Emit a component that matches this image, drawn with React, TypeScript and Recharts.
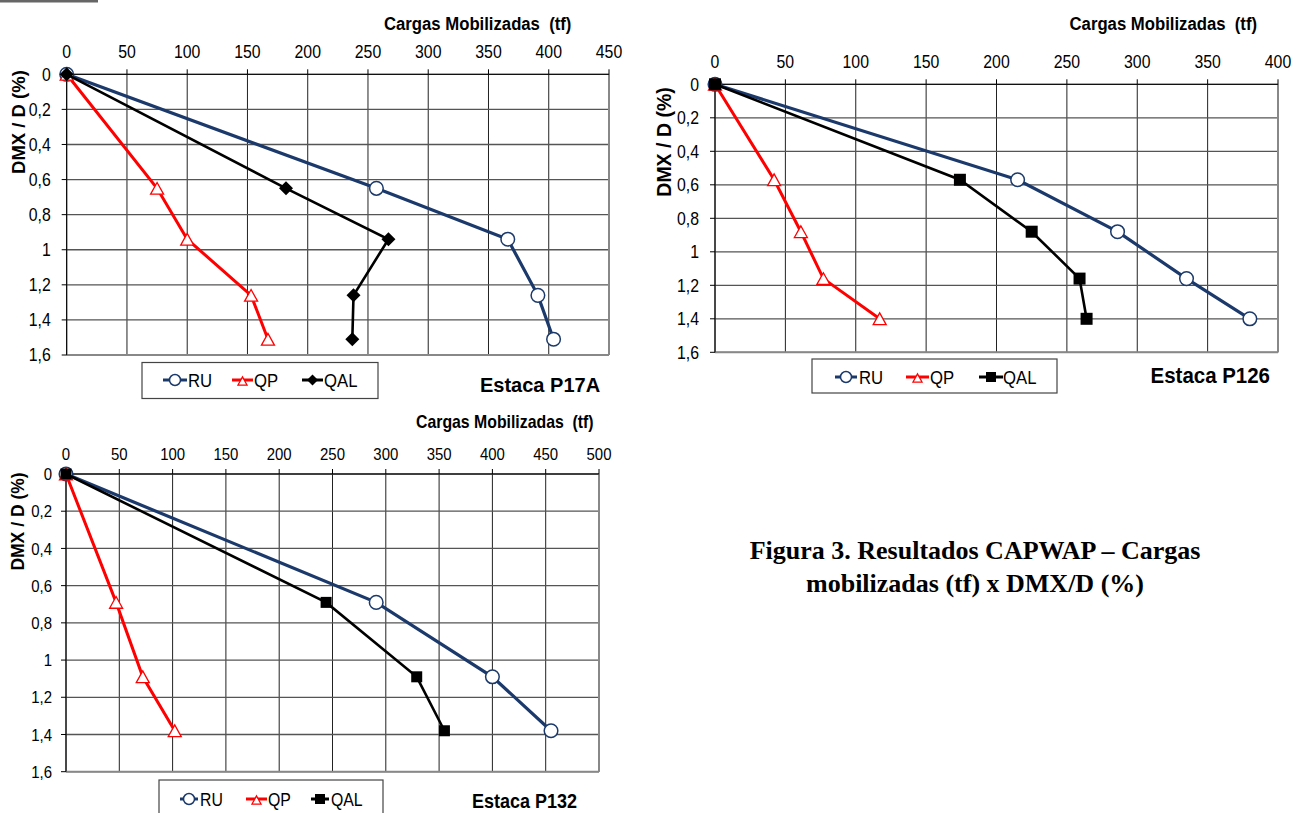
import React from 'react';
import { ScatterChart, Scatter, XAxis, YAxis, CartesianGrid, ReferenceLine } from 'recharts';

const SANS = "'Liberation Sans', Arial, Helvetica, sans-serif";
const SERIF = "'Liberation Serif', 'Times New Roman', Times, serif";
const NAVY = '#1b3a6b';
const RED = '#ff0000';
const BLACK = '#000000';

// DMX/D axis, shared by the three piles
const dmxTicks = [0, 0.2, 0.4, 0.6, 0.8, 1, 1.2, 1.4, 1.6];

// Estaca P17A
const p17aTicks = [0, 50, 100, 150, 200, 250, 300, 350, 400, 450];
const p17aDmx = [0, 0.65, 0.94, 1.26, 1.51];
const p17aRU = [0, 257, 366, 391, 404];
const p17aQP = [0, 75, 100, 153, 167];
const p17aQAL = [0, 182, 267, 238, 237];

// Estaca P126
const p126Ticks = [0, 50, 100, 150, 200, 250, 300, 350, 400];
const p126Dmx = [0, 0.57, 0.88, 1.16, 1.4];
const p126RU = [0, 215, 286, 335, 380];
const p126QP = [0, 42, 61, 77, 117];
const p126QAL = [0, 174, 225, 259, 264];

// Estaca P132
const p132Ticks = [0, 50, 100, 150, 200, 250, 300, 350, 400, 450, 500];
const p132Dmx = [0, 0.69, 1.09, 1.38];
const p132RU = [0, 291, 400, 455];
const p132QP = [0, 47, 72, 102];
const p132QAL = [0, 244, 329, 355];

const toPoints = (loads: number[], dmx: number[]) => loads.map((x, i) => ({ x, y: dmx[i] }));

const Circle = ({ cx, cy, r = 6 }: any) => (
  <circle cx={cx} cy={cy} r={r} fill="#fff" stroke={NAVY} strokeWidth={1.5} />
);
const Triangle = ({ cx, cy, s = 12 }: any) => {
  const h = s * 0.9;
  return (
    <polygon
      points={`${cx - s / 2},${cy + h / 2} ${cx + s / 2},${cy + h / 2} ${cx},${cy - h / 2}`}
      fill="#fff"
      stroke={RED}
      strokeWidth={1.3}
    />
  );
};
const Diamond = ({ cx, cy, s = 6.5 }: any) => (
  <polygon points={`${cx},${cy - s} ${cx + s},${cy} ${cx},${cy + s} ${cx - s},${cy}`} fill={BLACK} />
);
const Square = ({ cx, cy, s = 11 }: any) => (
  <rect x={cx - s / 2} y={cy - s / 2} width={s} height={s} fill={BLACK} />
);

const fmt = (v: number) => String(v).replace('.', ',');

const XTick = ({ x, y, payload, fs }: any) => (
  <g transform={`translate(${x},${y}) scale(0.88,1)`}>
    <text x={0} y={0} textAnchor="middle" fontSize={fs} fontFamily={SANS} fill="#000">
      {payload.value}
    </text>
  </g>
);
const YTick = ({ x, y, payload, fs }: any) => (
  <g transform={`translate(${x},${y}) scale(0.88,1)`}>
    <text x={0} y={0} dy="0.36em" textAnchor="end" fontSize={fs} fontFamily={SANS} fill="#000">
      {fmt(payload.value)}
    </text>
  </g>
);

type PanelProps = {
  box: { left: number; top: number; width: number; height: number };
  margin: { top: number; right: number; bottom: number; left: number };
  xTicks: number[];
  dmx: number[];
  ru: number[];
  qp: number[];
  qal: number[];
  qalMarker: 'diamond' | 'square';
  markSize: number;
  gap: number;
  fs: number;
};

const Panel = ({ box, margin, xTicks, dmx, ru, qp, qal, qalMarker, markSize, gap, fs }: PanelProps) => {
  const xMax = xTicks[xTicks.length - 1];
  return (
    <div style={{ position: 'absolute', left: box.left, top: box.top }}>
      <ScatterChart width={box.width} height={box.height} margin={margin}>
        <CartesianGrid horizontal={false} stroke="#222" strokeWidth={1} />
        <CartesianGrid vertical={false} stroke="#555" strokeWidth={1.3} />
        <XAxis
          type="number"
          dataKey="x"
          orientation="top"
          domain={[0, xMax]}
          ticks={xTicks}
          interval={0}
          height={30}
          tickSize={5}
          tickMargin={gap - 5}
          axisLine={{ stroke: '#000' }}
          tickLine={{ stroke: '#000' }}
          tick={(p: any) => <XTick {...p} fs={fs} />}
        />
        <YAxis
          type="number"
          dataKey="y"
          reversed
          domain={[0, 1.6]}
          ticks={dmxTicks}
          interval={0}
          width={46}
          tickSize={5}
          tickMargin={gap - 5}
          axisLine={{ stroke: '#000' }}
          tickLine={{ stroke: '#000' }}
          tick={(p: any) => <YTick {...p} fs={fs} />}
        />
        <ReferenceLine x={xMax} stroke="#888" strokeWidth={2} />
        <ReferenceLine y={1.6} stroke="#888" strokeWidth={2} />
        <Scatter
          data={toPoints(ru, dmx)}
          fill={NAVY}
          line={{ stroke: NAVY, strokeWidth: 3.2 }}
          shape={(p: any) => <Circle cx={p.cx} cy={p.cy} r={6.8} />}
          isAnimationActive={false}
        />
        <Scatter
          data={toPoints(qp, dmx)}
          fill={RED}
          line={{ stroke: RED, strokeWidth: 3 }}
          shape={(p: any) => <Triangle cx={p.cx} cy={p.cy} s={13} />}
          isAnimationActive={false}
        />
        <Scatter
          data={toPoints(qal, dmx)}
          fill={BLACK}
          line={{ stroke: BLACK, strokeWidth: 2.6 }}
          shape={(p: any) =>
            qalMarker === 'diamond' ? (
              <Diamond cx={p.cx} cy={p.cy} s={markSize} />
            ) : (
              <Square cx={p.cx} cy={p.cy} s={markSize} />
            )
          }
          isAnimationActive={false}
        />
      </ScatterChart>
    </div>
  );
};

const NText = ({ x, y, fs, bold = false, anchor = 'start', sx = 0.88, children }: any) => (
  <g transform={`translate(${x},${y}) scale(${sx},1)`}>
    <text
      x={0}
      y={0}
      textAnchor={anchor}
      fontSize={fs}
      fontWeight={bold ? 700 : 400}
      fontFamily={SANS}
      fill="#000"
      style={{ whiteSpace: 'pre' }}
    >
      {children}
    </text>
  </g>
);

const YTitle = ({ cx, cy, fs }: any) => (
  <text
    transform={`translate(${cx},${cy}) rotate(-90)`}
    textAnchor="middle"
    dominantBaseline="central"
    fontSize={fs}
    fontWeight={700}
    fontFamily={SANS}
    fill="#000"
  >
    DMX / D (%)
  </text>
);

const LegendBox = ({ x, y, w, h, cy, items, qalMarker, fs }: any) => (
  <g>
    <rect x={x} y={y} width={w} height={h} fill="#fff" stroke="#444" strokeWidth={1.2} />
    {/* RU */}
    <line x1={items[0][0]} x2={items[0][1]} y1={cy} y2={cy} stroke={NAVY} strokeWidth={3} />
    <Circle cx={(items[0][0] + items[0][1]) / 2} cy={cy} r={5.5} />
    <NText x={items[0][2]} y={cy + 7} fs={fs}>RU</NText>
    {/* QP */}
    <line x1={items[1][0]} x2={items[1][1]} y1={cy} y2={cy} stroke={RED} strokeWidth={3} />
    <Triangle cx={(items[1][0] + items[1][1]) / 2} cy={cy + 1} s={9} />
    <NText x={items[1][2]} y={cy + 7} fs={fs}>QP</NText>
    {/* QAL */}
    <line x1={items[2][0]} x2={items[2][1]} y1={cy} y2={cy} stroke={BLACK} strokeWidth={3} />
    {qalMarker === 'diamond' ? (
      <Diamond cx={(items[2][0] + items[2][1]) / 2} cy={cy} s={5.5} />
    ) : (
      <Square cx={(items[2][0] + items[2][1]) / 2} cy={cy} s={10} />
    )}
    <NText x={items[2][2]} y={cy + 7} fs={fs}>QAL</NText>
  </g>
);

const Overlay = () => (
  <svg
    width={1303}
    height={813}
    style={{ position: 'absolute', left: 0, top: 0, pointerEvents: 'none', overflow: 'hidden' }}
  >
    <rect x={0} y={0} width={98} height={2.5} fill="#666" />

    {/* P17A */}
    <NText x={384} y={30} fs={19} bold>{'Cargas Mobilizadas  (tf)'}</NText>
    <YTitle cx={18.5} cy={122} fs={18.5} />
    <LegendBox
      x={142}
      y={362.5}
      w={236}
      h={36}
      cy={380}
      fs={19}
      qalMarker="diamond"
      items={[
        [163, 187, 188],
        [232, 253, 254],
        [302, 323, 324],
      ]}
    />
    <NText x={480} y={391.5} fs={20} bold sx={1}>Estaca P17A</NText>

    {/* P126 */}
    <NText x={1257} y={30} fs={19} bold anchor="end">{'Cargas Mobilizadas  (tf)'}</NText>
    <YTitle cx={664} cy={142} fs={19.5} />
    <LegendBox
      x={812}
      y={359}
      w={245}
      h={34}
      cy={377}
      fs={19}
      qalMarker="square"
      items={[
        [835, 857, 859],
        [906, 929, 930],
        [979, 1003, 1003],
      ]}
    />
    <NText x={1270} y={383} fs={22} bold anchor="end" sx={0.93}>Estaca P126</NText>

    {/* P132 */}
    <NText x={416} y={428} fs={18} bold>{'Cargas Mobilizadas  (tf)'}</NText>
    <YTitle cx={18} cy={521.5} fs={17.5} />
    <LegendBox
      x={159}
      y={780}
      w={224}
      h={40}
      cy={799}
      fs={18}
      qalMarker="square"
      items={[
        [180, 198, 200],
        [246, 267, 268],
        [311, 329, 331],
      ]}
    />
    <NText x={472} y={808} fs={20} bold sx={0.9}>Estaca P132</NText>

    {/* caption */}
    <text x={975} y={559} textAnchor="middle" fontSize={26} fontWeight={700} fontFamily={SERIF} fill="#000">
      Figura 3. Resultados CAPWAP – Cargas
    </text>
    <text x={975} y={592} textAnchor="middle" fontSize={26} fontWeight={700} fontFamily={SERIF} fill="#000">
      mobilizadas (tf) x DMX/D (%)
    </text>
  </svg>
);

export default function App() {
  return (
    <div style={{ position: 'absolute', left: 0, top: 0, width: 1303, height: 813, background: '#fff', overflow: 'hidden' }}>
      <Panel
        box={{ left: 0, top: 0, width: 640, height: 400 }}
        margin={{ top: 44.3, right: 31, bottom: 45, left: 20.7 }}
        xTicks={p17aTicks}
        dmx={p17aDmx}
        ru={p17aRU}
        qp={p17aQP}
        qal={p17aQAL}
        qalMarker="diamond"
        markSize={7}
        gap={16}
        fs={18}
      />
      <Panel
        box={{ left: 640, top: 0, width: 663, height: 400 }}
        margin={{ top: 54.3, right: 25, bottom: 47.7, left: 29 }}
        xTicks={p126Ticks}
        dmx={p126Dmx}
        ru={p126RU}
        qp={p126QP}
        qal={p126QAL}
        qalMarker="square"
        markSize={12}
        gap={16}
        fs={18}
      />
      <Panel
        box={{ left: 0, top: 400, width: 640, height: 413 }}
        margin={{ top: 44, right: 41, bottom: 41.3, left: 20 }}
        xTicks={p132Ticks}
        dmx={p132Dmx}
        ru={p132RU}
        qp={p132QP}
        qal={p132QAL}
        qalMarker="square"
        markSize={11}
        gap={14}
        fs={17}
      />
      <Overlay />
    </div>
  );
}
